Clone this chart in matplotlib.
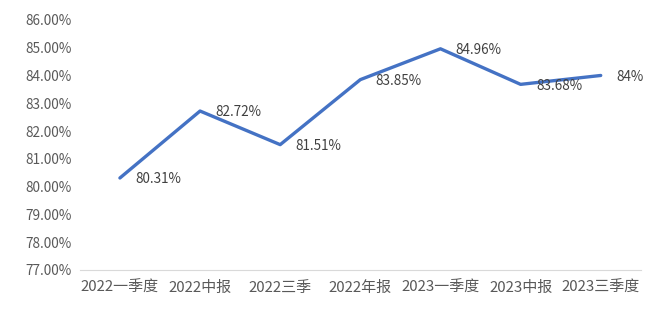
import matplotlib.pyplot as plt
from matplotlib.ticker import FuncFormatter

plt.rcParams['font.family'] = ['Noto Sans CJK SC', 'DejaVu Sans']

categories = ["2022一季度", "2022中报", "2022三季", "2022年报", "2023一季度", "2023中报", "2023三季度"]
values = [80.31, 82.72, 81.51, 83.85, 84.96, 83.68, 84.0]
labels = ["80.31%", "82.72%", "81.51%", "83.85%", "84.96%", "83.68%", "84%"]

fig = plt.figure(figsize=(6.71, 3.11), dpi=100)
ax = fig.add_axes([0.119, 0.132, 0.836, 0.804])

x = list(range(len(categories)))
ax.plot(x, values, color="#4472C4", linewidth=2.4, solid_capstyle="round")

for xi, v, lab in zip(x, values, labels):
    ax.annotate(lab, (xi, v), xytext=(11, -1), textcoords="offset points",
                ha="left", va="center", fontsize=9.7, color="#404040")

ax.set_xlim(-0.5, len(categories) - 0.5)
ax.set_ylim(77, 86)
ax.set_yticks(range(77, 87))
ax.yaxis.set_major_formatter(FuncFormatter(lambda v, p: f"{v:.2f}%"))
ax.set_xticks(x)
ax.set_xticklabels(categories)

for s in ["top", "right", "left"]:
    ax.spines[s].set_visible(False)
ax.spines["bottom"].set_color("#D9D9D9")
ax.tick_params(axis="both", length=0, colors="#595959")
ax.tick_params(axis="y", pad=6, labelsize=9.8)
ax.tick_params(axis="x", pad=8, labelsize=10.8)

fig.savefig("out.png", dpi=100)
